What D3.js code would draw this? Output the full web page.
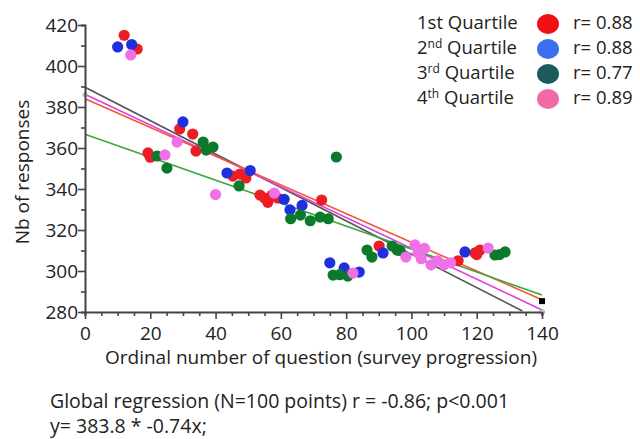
<!DOCTYPE html>
<html><head><meta charset="utf-8">
<script src="https://cdn.jsdelivr.net/npm/d3@7"></script>
<style>body{margin:0;background:#fff}svg{display:block}text{font-family:"Open Sans",sans-serif;fill:#222}</style>
</head><body><svg id="c" width="640" height="439"></svg>
<script>
// ---- data ----
const xTicks = [0,20,40,60,80,100,120,140];
const yTicks = [280,300,320,340,360,380,400,420];
const q1 = [[12,415],[16,408.3],[29,369.3],[33,366.8],[34,358.5],[19.3,357.6],[20,355.5],[45.3,346.3],[47.5,347.3],[49.3,345.4],[53.6,337],[55,335.6],[57.3,337],[59,335.6],[56,333.5],[72.5,334.6],[90.1,312.2],[114.3,305],[119.5,308.8],[121,310.2],[120,308]];
const q2 = [[10,409.3],[14.3,410.5],[30,372.7],[43.5,347.8],[50.6,349],[61,335],[62.8,329.8],[66.5,332],[75,304],[79.4,301.5],[84,299.5],[91.3,308.8],[116.4,309.3]];
const q3 = [[36.2,362.9],[37.1,359],[39.2,360.5],[22.1,356.1],[25.1,350.2],[47.2,341.5],[63,325.5],[66,327.3],[69,324.5],[72,326.3],[74.5,325.5],[77,355.6],[76,298],[78,298.2],[80.5,297.5],[86.4,310.2],[87.9,306.8],[94.1,312.2],[95.6,310.2],[96.5,310],[125.6,307.8],[128.7,309.3],[127,308]];
const q4 = [[14,405.4],[28.2,362.9],[24.5,356.6],[40,337.3],[82.1,299],[98.3,306.8],[101.1,312.7],[102,309],[104,311],[103,306],[106,303],[108,305],[110,303],[112,304],[123.5,311.2],[58,338]];
const regLines = [
  {name:"global", pts:[[0,389.6],[134,280.5]]},
  {name:"q4", pts:[[0,386.2],[140,281]]},
  {name:"q1", pts:[[0,384],[140,286]]},
  {name:"q3", pts:[[0,366.7],[140,288.3]]}
];
const legendLabels = [["1","st",false],["2","nd",true],["3","rd",true],["4","th",true]];
const legendR = ["r= 0.88","r= 0.88","r= 0.77","r= 0.89"];
const xLabel = "Ordinal number of question (survey progression)";
const yLabel = "Nb of responses";
const footer = ["Global regression (N=100 points) r = -0.86; p<0.001","y= 383.8 * -0.74x;"];

// ---- styles ----
const ptColors = ["#ee1c24","#1f2fe0","#0b7a2a","#f070e8"];
const legColors = ["#f00f14","#3a6ff0","#1d5a5c","#f06aa6"];
const lineColors = {global:"#555555", q4:"#e040e0", q1:"#f0583c", q3:"#3ca83c"};

const svg = d3.select("#c");
const x = d3.scaleLinear().domain([0,140]).range([85,542]);
const y = d3.scaleLinear().domain([280,420]).range([312,25]);

// regression lines
const line = d3.line().x(d=>x(d[0])).y(d=>y(d[1]));
svg.append("g").selectAll("path").data(regLines).join("path")
  .attr("d",d=>line(d.pts)).attr("stroke",d=>lineColors[d.name])
  .attr("stroke-width",1.6).attr("fill","none");

// points
[q1,q2,q3,q4].forEach((s,i)=>{
  svg.append("g").selectAll("circle").data(s).join("circle")
    .attr("cx",d=>x(d[0])).attr("cy",d=>y(d[1])).attr("r",5.6)
    .attr("fill",ptColors[i]);
});
// small end markers
svg.append("rect").attr("x",x(140)-3).attr("y",y(285.3)-3).attr("width",6).attr("height",6).attr("fill","#000");
svg.append("circle").attr("cx",x(140)).attr("cy",y(280)).attr("r",2.5).attr("fill","none").attr("stroke","#999");
svg.append("circle").attr("cx",x(0)).attr("cy",y(386)).attr("r",2.5).attr("fill","#bbb");

// axes
const ax = svg.append("g").attr("transform","translate(0,312)")
  .call(d3.axisBottom(x).tickValues(d3.range(0,141,5)).tickSize(4).tickFormat(""));
ax.selectAll(".tick line").filter(d=>d%20===0).attr("y2",7);
const ax2 = svg.append("g").attr("transform","translate(0,312)")
  .call(d3.axisBottom(x).tickValues(xTicks).tickSize(0).tickPadding(15));
ax2.select(".domain").remove();
const ay = svg.append("g").attr("transform","translate(85,0)")
  .call(d3.axisLeft(y).tickValues(d3.range(280,421,10)).tickSize(4).tickFormat(""));
ay.selectAll(".tick line").filter(d=>d%20===0).attr("x2",-7);
const ay2 = svg.append("g").attr("transform","translate(85,0)")
  .call(d3.axisLeft(y).tickValues(yTicks).tickSize(0).tickPadding(7));
ay2.select(".domain").remove();
svg.selectAll(".domain").attr("stroke","#444").attr("stroke-width",2);
svg.selectAll(".tick line").attr("stroke","#444").attr("stroke-width",1.6);
svg.selectAll(".tick text").attr("font-size",19).attr("fill","#222").style("font-family","'Open Sans',sans-serif");

// axis labels
svg.append("text").attr("x",321).attr("y",364).attr("text-anchor","middle").attr("font-size",19).text(xLabel);
svg.append("text").attr("transform","translate(29,172) rotate(-90)").attr("text-anchor","middle").attr("font-size",19).text(yLabel);

// legend
const lg = svg.append("g");
legendLabels.forEach((l,i)=>{
  const yy = 23 + i*25;
  const t = lg.append("text").attr("x",417).attr("y",yy).attr("dy","0.35em").attr("font-size",18.5);
  t.append("tspan").text(l[0]);
  if(l[2]) t.append("tspan").attr("font-size",12).attr("dy",-6).text(l[1]);
  else t.append("tspan").text(l[1]);
  t.append("tspan").attr("dy",l[2]?6:null).text(" Quartile");
  lg.append("ellipse").attr("cx",548).attr("cy",yy+1).attr("rx",11).attr("ry",10).attr("fill",legColors[i]);
  lg.append("text").attr("x",573).attr("y",yy).attr("dy","0.35em").attr("font-size",18.5).text(legendR[i]);
});

// footer
footer.forEach((f,i)=>{
  svg.append("text").attr("x",50).attr("y",408+i*25).attr("font-size",19.5).text(f);
});
</script></body></html>
